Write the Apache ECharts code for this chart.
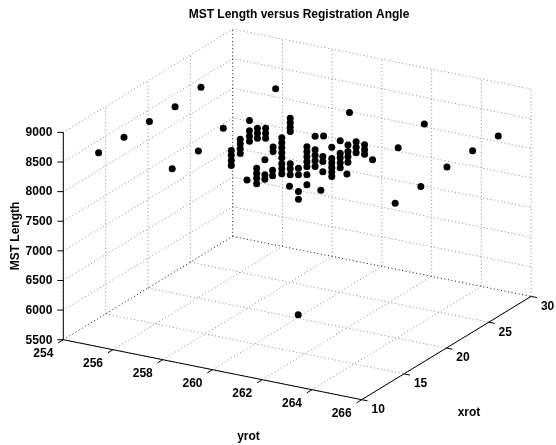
<!DOCTYPE html>
<html><head><meta charset="utf-8">
<script src="https://cdn.jsdelivr.net/npm/echarts@6/dist/echarts.min.js"></script>
<style>html,body{margin:0;padding:0;background:#fff}#c{width:556px;height:445px}</style>
</head><body><div id="c"></div>
<script>
// ---- data (yrot, xrot, MST length) ----
const yrot = [
  255.42,255.42,255.42,255.43,255.45,
  258.38,258.41,258.39,
  264.62,264.63,264.66,264.67,264.68,
  264.06,264.09,
  257.43,260.40,260.04,
  257.35,257.35,257.35,257.35,
  257.71,257.71,257.71,257.71,
  257.98,
  258.08,258.08,258.08,258.08,
  258.37,258.37,258.37,258.37,
  258.40,258.40,258.40,
  258.73,258.73,258.73,
  258.70,258.70,258.70,
  259.03,259.03,
  259.01,259.01,
  259.38,259.38,259.38,259.38,259.38,259.38,259.38,259.38,
  259.72,259.72,259.72,259.72,259.72,259.72,259.72,
  259.69,
  260.05,260.05,260.05,260.05,
  260.39,260.39,260.39,260.39,260.39,260.39,260.39,
  260.72,260.72,260.72,260.72,260.72,
  261.06,
  261.03,261.03,261.03,
  260.95,
  261.39,261.39,261.39,261.39,261.39,261.39,
  261.73,261.73,261.73,261.73,261.73,
  262.00,
  262.04,262.04,262.04,262.04,
  262.37,262.37,262.37,
  262.71,262.71,262.71,
  263.03
];
const xrot = [
  10,13,16,19,22,
  10,13,16,
  18,21,24,27,30,
  20,23,
  25,25,20,
  20,20,20,20,
  20,20,20,20,
  20,
  20,20,20,20,
  20,20,20,20,
  20,20,20,
  20,20,20,
  20,20,20,
  20,20,
  20,20,
  20,20,20,20,20,20,20,20,
  20,20,20,20,20,20,20,
  20,
  20,20,20,20,
  20,20,20,20,20,20,20,
  20,20,20,20,20,
  20,
  20,20,20,
  20,
  20,20,20,20,20,20,
  20,20,20,20,20,
  20,
  20,20,20,20,
  20,20,20,
  20,20,20,
  20
];
const mst = [
  8776,8776,8779,8767,8840,
  8757,8797,8918,
  8004,8024,8093,8108,8097,
  8716,8858,
  8718,8569,5557,
  8104,8023,7938,7854,
  8327,8248,8163,8087,
  7662,
  8673,8499,8406,8321,
  7890,7805,7721,7628,
  8571,8487,8402,
  8599,8515,8430,
  8061,7808,7732,
  8304,8230,
  7910,7818,
  8490,8406,8321,8237,8153,8051,7967,7883,
  8851,8772,8696,8625,8080,7995,7894,
  7697,
  8035,7922,7640,7512,
  8423,8339,8255,8170,8086,7951,7782,
  8632,8401,8308,8215,8119,
  8665,
  8314,8229,8055,
  7736,
  8502,8313,8237,8161,8085,8009,
  8638,8427,8351,8266,8182,
  8103,
  8596,8486,8394,8301,
  8675,8582,8489,
  8653,8569,8493,
  8427
];
const yrotTicks = [254,256,258,260,262,264,266];
const xrotTicks = [10,15,20,25,30];
const mstTicks = [5500,6000,6500,7000,7500,8000,8500,9000];
const titleText = 'MST Length versus Registration Angle';
const zName = 'MST Length', xName = 'yrot', yName = 'xrot';

// ---- view (orthographic projection of the axis box onto the page) ----
const lim = {x:[254,266], y:[10,30], z:[5500,9000]};
const view = {origin:[63.3,339.7], ex:[298.4,60], ey:[169.4,-103.3], ez:[0,-207.3]};
function proj(x,y,z){
  const nx=(x-lim.x[0])/(lim.x[1]-lim.x[0]);
  const ny=(y-lim.y[0])/(lim.y[1]-lim.y[0]);
  const nz=(z-lim.z[0])/(lim.z[1]-lim.z[0]);
  return [view.origin[0]+nx*view.ex[0]+ny*view.ey[0]+nz*view.ez[0],
          view.origin[1]+nx*view.ex[1]+ny*view.ey[1]+nz*view.ez[1]];
}
const FONT = 'bold 12px "Liberation Sans", Arial, Helvetica, sans-serif';

function frameItem(params, api){
  const P=(x,y,z)=>api.coord(proj(x,y,z));
  const ch=[], late=[];
  const dot={stroke:'#8c8c8c',lineWidth:1,lineDash:[1,2.6],fill:null};
  const edge={stroke:'#111',lineWidth:1,lineDash:[1,2.6],fill:null};
  const solid={stroke:'#000',lineWidth:1,fill:null};
  const seg=(a,b,st,arr)=>(arr||ch).push({type:'line',shape:{x1:a[0],y1:a[1],x2:b[0],y2:b[1]},style:st});
  const [x0,x1]=lim.x,[y0,y1]=lim.y,[z0,z1]=lim.z;
  // floor
  yrotTicks.forEach(t=>{ if(t===x0) seg(P(t,y0,z0),P(t,y1,z0),edge,late); else seg(P(t,y0,z0),P(t,y1,z0),dot); });
  xrotTicks.forEach(t=>{ if(t===y1) seg(P(x0,t,z0),P(x1,t,z0),edge,late); else seg(P(x0,t,z0),P(x1,t,z0),dot); });
  // left wall (x = x0)
  xrotTicks.forEach(t=>{ if(t===y1) seg(P(x0,t,z0),P(x0,t,z1),edge,late); else seg(P(x0,t,z0),P(x0,t,z1),dot); });
  mstTicks.forEach(t=>{ if(t!==z0) seg(P(x0,y0,t),P(x0,y1,t),dot); });
  // back wall (y = y1)
  yrotTicks.forEach(t=>{ if(t!==x0) seg(P(t,y1,z0),P(t,y1,z1),dot); });
  mstTicks.forEach(t=>{ if(t!==z0) seg(P(x0,y1,t),P(x1,y1,t),dot); });
  late.forEach(e=>ch.push(e));
  // axis lines
  seg(P(x0,y0,z0),P(x1,y0,z0),solid);
  seg(P(x1,y0,z0),P(x1,y1,z0),solid);
  seg(P(x0,y0,z0),P(x0,y0,z1),solid);
  // tick directions
  const L=6;
  const nEy=Math.hypot(view.ey[0],view.ey[1]), nEx=Math.hypot(view.ex[0],view.ex[1]);
  const dX=[-view.ey[0]/nEy*L,-view.ey[1]/nEy*L];
  const dY=[view.ex[0]/nEx*L,view.ex[1]/nEx*L];
  const txt=(s,x,y,align,extra)=>ch.push(Object.assign({type:'text',x:x,y:y,style:{text:s,fill:'#000',font:FONT,align:align,verticalAlign:'middle'}},extra||{}));
  mstTicks.forEach(t=>{ const p=P(x0,y0,t); seg(p,[p[0]-L,p[1]],solid); txt(String(t),p[0]-11,p[1]+0.5,'right'); });
  yrotTicks.forEach(t=>{ const p=P(t,y0,z0); seg(p,[p[0]+dX[0],p[1]+dX[1]],solid); txt(String(t),p[0]-20,p[1]+14,'center'); });
  xrotTicks.forEach(t=>{ const p=P(x1,t,z0); seg(p,[p[0]+dY[0],p[1]+dY[1]],solid); txt(String(t),p[0]+16.5,p[1]+10,'center'); });
  // axis names & title
  txt(xName,248.5,436.5,'center');
  txt(yName,469,413,'center');
  txt(zName,16,236,'center',{rotation:Math.PI/2});
  txt(titleText,299,15,'center');
  return {type:'group',children:ch};
}

const pts = yrot.map((v,i)=>proj(v,xrot[i],mst[i]));

const chart = echarts.init(document.getElementById('c'), null, {renderer:'canvas'});
chart.setOption({
  animation:false,
  backgroundColor:'#fff',
  grid:{left:0,right:0,top:0,bottom:0},
  xAxis:{type:'value',min:0,max:556,show:false},
  yAxis:{type:'value',min:0,max:445,inverse:true,show:false},
  series:[
    {type:'custom',data:[[0,0]],renderItem:frameItem,silent:true,z:1},
    {type:'scatter',data:pts,symbol:'circle',symbolSize:7,itemStyle:{color:'#000',opacity:1},silent:true,z:2}
  ]
});
</script>
</body></html>
